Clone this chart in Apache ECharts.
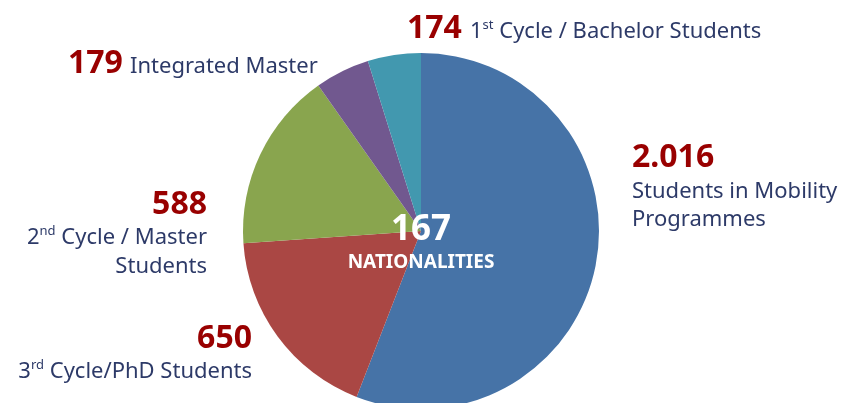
<!DOCTYPE html>
<html>
<head>
<meta charset="utf-8">
<script src="https://cdn.jsdelivr.net/npm/echarts@6/dist/echarts.min.js"></script>
<style>
html, body { margin: 0; padding: 0; background: #fff; }
#main { width: 849px; height: 403px; }
</style>
</head>
<body>
<div id="main"></div>
<script>
// slice data, clockwise from the top
const categories = ['Students in Mobility Programmes', '3rd Cycle/PhD Students', '2nd Cycle / Master Students', 'Integrated Master', '1st Cycle / Bachelor Students'];
const values = [2016, 650, 588, 179, 174];
const valueLabels = ['2.016', '650', '588', '179', '174'];
// label lines, {s|..} is superscript
const descLines = [
  ['{n|Students in Mobility}', '{n|Programmes}'],
  ['{n|3}{s|rd}{n| Cycle/PhD Students}'],
  ['{n|2}{s|nd}{n| Cycle / Master}', '{n|Students}'],
  ['{n|Integrated Master}'],
  ['{n|1}{s|st}{n| Cycle / Bachelor Students}']
];
const centerValue = '167';
const centerLabel = 'NATIONALITIES';
const colors = ['#4673a7', '#aa4744', '#89a54e', '#71588f', '#4298af'];

// where the labels sit (baselines), kept apart from the data
const labelPos = [
  { align: 'left',  numX: 632, numY: 167, descX: 632, descY: [198, 226] },
  { align: 'right', numX: 252, numY: 348, descX: 252, descY: [378] },
  { align: 'right', numX: 207, numY: 214, descX: 207, descY: [244, 273] },
  { align: 'left',  numX: 68,  numY: 73,  descX: 130, descY: [73] },
  { align: 'left',  numX: 407, numY: 38,  descX: 470, descY: [38] }
];

const FONT = '"Noto Sans", "Open Sans", sans-serif';
const NUM_SIZE = 32, TXT_SIZE = 22;
const TXT_COLOR = '#2d3a68';
const rich = {
  n: { fontFamily: FONT, fontSize: TXT_SIZE, fill: TXT_COLOR, color: TXT_COLOR },
  s: { fontFamily: FONT, fontSize: 13, fill: TXT_COLOR, color: TXT_COLOR, padding: [0, 0, 12, 0] }
};

let graphics = [];
labelPos.forEach(function (p, i) {
  graphics.push({
    type: 'text', x: p.numX, y: p.numY - 0.29 * NUM_SIZE, silent: true,
    style: { text: valueLabels[i], fill: '#990000', font: 'bold ' + NUM_SIZE + 'px ' + FONT,
             align: p.align, verticalAlign: 'middle' }
  });
  descLines[i].forEach(function (line, k) {
    graphics.push({
      type: 'text', x: p.descX, y: p.descY[k] - 0.29 * TXT_SIZE, silent: true,
      style: { text: line, rich: rich, fill: TXT_COLOR, align: p.align, verticalAlign: 'middle' }
    });
  });
});
graphics.push({
  type: 'text', x: 421, y: 240 - 0.29 * 35, silent: true, z: 10,
  style: { text: centerValue, fill: '#fff', font: 'bold 35px ' + FONT, align: 'center', verticalAlign: 'middle' }
});
graphics.push({
  type: 'text', x: 421, y: 268 - 0.29 * 19, silent: true, z: 10,
  style: { text: centerLabel, fill: '#fff', font: 'bold 19px ' + FONT, align: 'center', verticalAlign: 'middle' }
});

let chart = echarts.init(document.getElementById('main'));
chart.setOption({
  animation: false,
  color: colors,
  series: [{
    type: 'pie',
    center: [421, 231],
    radius: 178,
    startAngle: 90,
    clockwise: true,
    silent: true,
    label: { show: false },
    labelLine: { show: false },
    itemStyle: { borderWidth: 0 },
    data: categories.map(function (c, i) { return { name: c, value: values[i] }; })
  }],
  graphic: graphics
});
</script>
</body>
</html>
